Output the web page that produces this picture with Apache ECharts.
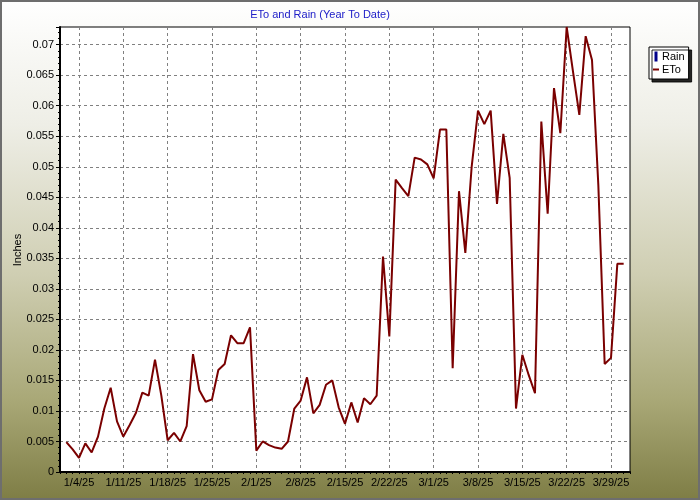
<!DOCTYPE html>
<html>
<head>
<meta charset="utf-8">
<script src="https://cdn.jsdelivr.net/npm/echarts@6/dist/echarts.min.js"></script>
<style>
html,body{margin:0;padding:0;background:#fff;}
#chart{width:700px;height:500px;}
</style>
</head>
<body>
<div id="chart"></div>
<script>
// Categories: daily dates 1/1/25 .. 4/1/25
const dates = [
 '1/1/25','1/2/25','1/3/25','1/4/25','1/5/25','1/6/25','1/7/25','1/8/25','1/9/25','1/10/25',
 '1/11/25','1/12/25','1/13/25','1/14/25','1/15/25','1/16/25','1/17/25','1/18/25','1/19/25','1/20/25',
 '1/21/25','1/22/25','1/23/25','1/24/25','1/25/25','1/26/25','1/27/25','1/28/25','1/29/25','1/30/25','1/31/25',
 '2/1/25','2/2/25','2/3/25','2/4/25','2/5/25','2/6/25','2/7/25','2/8/25','2/9/25','2/10/25',
 '2/11/25','2/12/25','2/13/25','2/14/25','2/15/25','2/16/25','2/17/25','2/18/25','2/19/25','2/20/25',
 '2/21/25','2/22/25','2/23/25','2/24/25','2/25/25','2/26/25','2/27/25','2/28/25',
 '3/1/25','3/2/25','3/3/25','3/4/25','3/5/25','3/6/25','3/7/25','3/8/25','3/9/25','3/10/25',
 '3/11/25','3/12/25','3/13/25','3/14/25','3/15/25','3/16/25','3/17/25','3/18/25','3/19/25','3/20/25',
 '3/21/25','3/22/25','3/23/25','3/24/25','3/25/25','3/26/25','3/27/25','3/28/25','3/29/25','3/30/25','3/31/25',
 '4/1/25'
];
// Tick labels shown on the x axis
const tickLabels = ['1/4/25','1/11/25','1/18/25','1/25/25','2/1/25','2/8/25','2/15/25','2/22/25','3/1/25','3/8/25','3/15/25','3/22/25','3/29/25'];

// ETo (inches), one value per date; null = no data
const eto = [
 null,0.0049,0.0037,0.0023,0.0047,0.0032,0.0058,0.0104,0.0138,0.0083,
 0.0058,0.0077,0.0097,0.0130,0.0125,0.0184,0.0125,0.0052,0.0064,0.0050,
 0.0075,0.0193,0.0134,0.0115,0.0119,0.0167,0.0177,0.0224,0.0211,0.0211,0.0237,
 0.0035,0.0050,0.0044,0.0040,0.0038,0.0050,0.0104,0.0117,0.0155,0.0096,
 0.0110,0.0143,0.0150,0.0106,0.0079,0.0114,0.0081,0.0121,0.0111,0.0125,
 0.0353,0.0222,0.0479,0.0465,0.0452,0.0515,0.0512,0.0504,
 0.0481,0.0561,0.0561,0.0170,0.0460,0.0359,0.0500,0.0592,0.0570,0.0592,
 0.0439,0.0554,0.0482,0.0104,0.0192,0.0159,0.0129,0.0574,0.0423,0.0629,
 0.0555,0.0729,0.0656,0.0585,0.0714,0.0675,0.0470,0.0177,0.0187,0.0341,0.0341,
 null
];
// Rain (inches): none recorded in this period
const rain = [];

const chart = echarts.init(document.getElementById('chart'), null, {renderer:'canvas'});
const isTick = (i) => tickLabels.indexOf(dates[i]) !== -1;
const FONT = 'Liberation Sans';

chart.setOption({
  animation: false,
  backgroundColor: {
    type: 'linear', x: 0, y: 0, x2: 0, y2: 1,
    colorStops: [
      {offset: 0, color: '#ffffff'},
      {offset: 0.25, color: '#eeeee6'},
      {offset: 0.55, color: '#cfceb2'},
      {offset: 0.8, color: '#a9a877'},
      {offset: 1, color: '#7e7d45'}
    ]
  },
  graphic: [
    {type:'rect', shape:{x:1, y:1, width:698, height:498}, style:{fill:null, stroke:'#6e6e6e', lineWidth:2}, z:100, silent:true},
    {type:'text', x:320, y:9, style:{text:'ETo and Rain (Year To Date)', fill:'#2020c8', font:'11px "Liberation Sans"', textAlign:'center', textVerticalAlign:'top'}},
    {type:'text', x:12, y:250, rotation:Math.PI/2, style:{text:'Inches', fill:'#000', font:'11px "Liberation Sans"', textAlign:'center', textVerticalAlign:'top'}}
  ],
  legend: {
    orient: 'vertical',
    left: 649, top: 47,
    padding: [4, 4, 4, 4],
    itemGap: 2,
    itemWidth: 6, itemHeight: 10,
    backgroundColor: '#fff',
    borderColor: '#000', borderWidth: 1,
    shadowColor: 'rgba(0,0,0,0.85)', shadowOffsetX: 3, shadowOffsetY: 3, shadowBlur: 0,
    textStyle: {fontFamily: FONT, fontSize: 11, color: '#000', padding:[0,0,0,-2]},
    data: [
      {name:'Rain', icon:'path://M0,0 L3,0 L3,10 L0,10 Z'},
      {name:'ETo', icon:'path://M0,0 L6,0 L6,2 L0,2 Z'}
    ]
  },
  grid: {left: 60, right: 70, top: 27, bottom: 28, show: true, backgroundColor: '#fff', borderColor: '#000', borderWidth: 1},
  xAxis: {
    type: 'category',
    data: dates,
    boundaryGap: false,
    axisLine: {show: true, lineStyle: {color: '#000', width: 2}},
    axisTick: {show: true, interval: 0, length: 2, lineStyle: {color: '#000'}},
    axisLabel: {interval: (i) => isTick(i), fontFamily: FONT, fontSize: 11, color: '#000', margin: 5},
    splitLine: {show: true, interval: (i) => isTick(i), lineStyle: {color: '#808080', type: [3, 3], width: 1}}
  },
  yAxis: {
    type: 'value',
    min: 0, max: 0.0729, interval: 0.005,
    axisLine: {show: true, lineStyle: {color: '#000', width: 2}},
    axisTick: {show: true, length: 4, lineStyle: {color: '#000'}},
    minorTick: {show: true, splitNumber: 5, length: 2, lineStyle: {color: '#000'}},
    axisLabel: {showMaxLabel: false, fontFamily: FONT, fontSize: 11, color: '#000', margin: 6},
    splitLine: {show: true, lineStyle: {color: '#808080', type: [3, 3], width: 1}}
  },
  series: [
    {name: 'Rain', type: 'bar', data: rain, itemStyle: {color: '#00008b'}},
    {name: 'ETo', type: 'line', data: eto, showSymbol: false, symbol: 'none', connectNulls: false,
     lineStyle: {color: '#7a0000', width: 2}, itemStyle: {color: '#7a0000'}}
  ]
});
</script>
</body>
</html>
